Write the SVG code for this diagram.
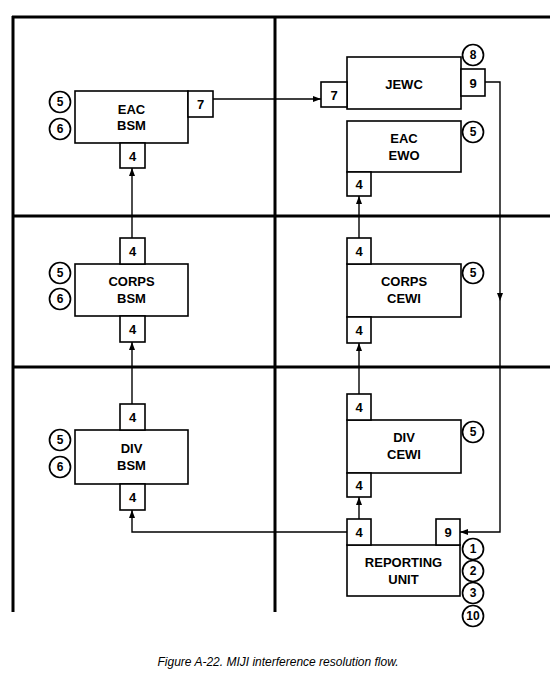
<svg xmlns="http://www.w3.org/2000/svg" width="550" height="686" viewBox="0 0 550 686">
<style>
.grid{stroke:#000;stroke-width:3;fill:none}
.box{fill:#fff;stroke:#000;stroke-width:1.6}
.lbl{font-family:"Liberation Sans",Arial,sans-serif;font-weight:bold;font-size:13px;text-anchor:middle;fill:#000}
.num{font-family:"Liberation Sans",Arial,sans-serif;font-weight:bold;font-size:13px;text-anchor:middle;fill:#000}
.cn{font-family:"Liberation Sans",Arial,sans-serif;font-weight:bold;font-size:12px;text-anchor:middle;fill:#000}
.circ{fill:#fff;stroke:#000;stroke-width:1.7}
.line{fill:none;stroke:#000;stroke-width:1.4}
.cap{font-family:"Liberation Sans",Arial,sans-serif;font-style:italic;font-size:12px;text-anchor:middle;fill:#000}
</style>
<defs>
<marker id="arr" markerUnits="userSpaceOnUse" markerWidth="8" markerHeight="6" refX="8" refY="3" orient="auto">
<path d="M0,0 L8,3 L0,6 z" fill="#000"/>
</marker>
</defs>
<rect width="550" height="686" fill="#fff"/>
<g id="grid">
<line class="grid" x1="12" y1="17" x2="550" y2="17"/>
<line class="grid" x1="12" y1="216" x2="550" y2="216"/>
<line class="grid" x1="12" y1="367" x2="550" y2="367"/>
<line class="grid" x1="13" y1="16" x2="13" y2="612"/>
<line class="grid" x1="275" y1="16" x2="275" y2="612"/>
</g>
<g id="connectors">
<path class="line" d="M213,99 H321" marker-end="url(#arr)"/>
<path class="line" d="M485,82 H500 V532 H460" marker-end="url(#arr)"/>
<path d="M497,293 L503,293 L500,301 z" fill="#000"/>
<path class="line" d="M347,532 H132 V510" marker-end="url(#arr)"/>
<path class="line" d="M359,519 V497" marker-end="url(#arr)"/>
<path class="line" d="M359,394 V343" marker-end="url(#arr)"/>
<path class="line" d="M359,238 V196" marker-end="url(#arr)"/>
<path class="line" d="M132,404 V342" marker-end="url(#arr)"/>
<path class="line" d="M132,238 V168" marker-end="url(#arr)"/>
</g>
<g id="eac-bsm">
<rect class="box" x="75" y="91" width="113" height="52"/>
<text class="lbl" x="131.5" y="114">EAC</text>
<text class="lbl" x="131.5" y="130">BSM</text>
<rect class="box" x="188" y="91" width="25" height="26"/>
<text class="num" x="200.5" y="109">7</text>
<rect class="box" x="120" y="143" width="25" height="25"/>
<text class="num" x="132.5" y="161">4</text>
<circle class="circ" cx="60" cy="102" r="10.5"/>
<text class="cn" x="60" y="106">5</text>
<circle class="circ" cx="60" cy="129" r="10.5"/>
<text class="cn" x="60" y="133">6</text>
</g>
<g id="jewc">
<rect class="box" x="347" y="57" width="114" height="52"/>
<text class="lbl" x="404" y="89">JEWC</text>
<rect class="box" x="321" y="82" width="26" height="25"/>
<text class="num" x="334" y="100">7</text>
<rect class="box" x="461" y="69" width="24" height="27"/>
<text class="num" x="473" y="88">9</text>
<circle class="circ" cx="473" cy="55" r="10.5"/>
<text class="cn" x="473" y="59">8</text>
</g>
<g id="eac-ewo">
<rect class="box" x="347" y="121" width="114" height="51"/>
<text class="lbl" x="404" y="143">EAC</text>
<text class="lbl" x="404" y="160">EWO</text>
<rect class="box" x="347" y="172" width="24" height="24"/>
<text class="num" x="359" y="189">4</text>
<circle class="circ" cx="473" cy="132" r="10.5"/>
<text class="cn" x="473" y="136">5</text>
</g>
<g id="corps-bsm">
<rect class="box" x="75" y="264" width="113" height="52"/>
<text class="lbl" x="131.5" y="286">CORPS</text>
<text class="lbl" x="131.5" y="303">BSM</text>
<rect class="box" x="120" y="238" width="25" height="26"/>
<text class="num" x="132.5" y="256">4</text>
<rect class="box" x="120" y="316" width="25" height="26"/>
<text class="num" x="132.5" y="334">4</text>
<circle class="circ" cx="60" cy="273" r="10.5"/>
<text class="cn" x="60" y="277">5</text>
<circle class="circ" cx="60" cy="299" r="10.5"/>
<text class="cn" x="60" y="303">6</text>
</g>
<g id="corps-cewi">
<rect class="box" x="347" y="264" width="114" height="53"/>
<text class="lbl" x="404" y="286">CORPS</text>
<text class="lbl" x="404" y="303">CEWI</text>
<rect class="box" x="347" y="238" width="24" height="26"/>
<text class="num" x="359" y="256">4</text>
<rect class="box" x="347" y="317" width="24" height="26"/>
<text class="num" x="359" y="335">4</text>
<circle class="circ" cx="473" cy="273" r="10.5"/>
<text class="cn" x="473" y="277">5</text>
</g>
<g id="div-bsm">
<rect class="box" x="75" y="430" width="113" height="54"/>
<text class="lbl" x="131.5" y="453">DIV</text>
<text class="lbl" x="131.5" y="470">BSM</text>
<rect class="box" x="120" y="404" width="25" height="26"/>
<text class="num" x="132.5" y="422">4</text>
<rect class="box" x="120" y="484" width="25" height="26"/>
<text class="num" x="132.5" y="502">4</text>
<circle class="circ" cx="60" cy="440" r="10.5"/>
<text class="cn" x="60" y="444">5</text>
<circle class="circ" cx="60" cy="467" r="10.5"/>
<text class="cn" x="60" y="471">6</text>
</g>
<g id="div-cewi">
<rect class="box" x="347" y="420" width="114" height="53"/>
<text class="lbl" x="404" y="442">DIV</text>
<text class="lbl" x="404" y="459">CEWI</text>
<rect class="box" x="347" y="394" width="24" height="26"/>
<text class="num" x="359" y="412">4</text>
<rect class="box" x="347" y="473" width="24" height="24"/>
<text class="num" x="359" y="490">4</text>
<circle class="circ" cx="473" cy="432" r="10.5"/>
<text class="cn" x="473" y="436">5</text>
</g>
<g id="reporting-unit">
<rect class="box" x="347" y="545" width="113" height="51"/>
<text class="lbl" x="403.5" y="567">REPORTING</text>
<text class="lbl" x="403.5" y="584">UNIT</text>
<rect class="box" x="347" y="519" width="24" height="26"/>
<text class="num" x="359" y="537">4</text>
<rect class="box" x="436" y="519" width="24" height="26"/>
<text class="num" x="448" y="537">9</text>
<circle class="circ" cx="473" cy="549" r="10.5"/>
<text class="cn" x="473" y="553">1</text>
<circle class="circ" cx="473" cy="571" r="10.5"/>
<text class="cn" x="473" y="575">2</text>
<circle class="circ" cx="473" cy="593" r="10.5"/>
<text class="cn" x="473" y="597">3</text>
<circle class="circ" cx="473" cy="616" r="10.5"/>
<text class="cn" x="473" y="620">10</text>
</g>
<text class="cap" x="278" y="666">Figure A-22. MIJI interference resolution flow.</text>
</svg>
